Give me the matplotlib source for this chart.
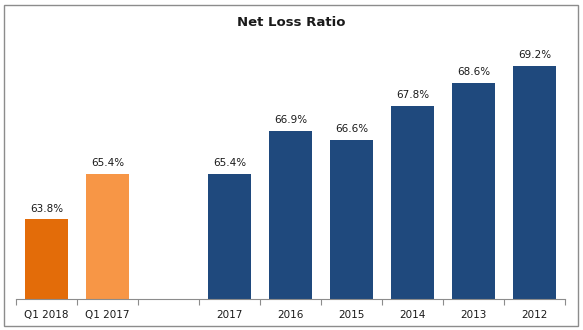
import matplotlib.pyplot as plt
from matplotlib.patches import Rectangle
import numpy as np

categories = ["Q1 2018", "Q1 2017", "", "2017", "2016", "2015", "2014", "2013", "2012"]
values = [63.8, 65.4, None, 65.4, 66.9, 66.6, 67.8, 68.6, 69.2]
colors = ["#E36C09", "#F79646", "#FFFFFF", "#1F497D", "#1F497D", "#1F497D",
          "#1F497D", "#1F497D", "#1F497D"]

W, H = 583, 330
fig = plt.figure(figsize=(W / 100, H / 100), dpi=100)
fig.patches.append(Rectangle((4 / W, 4 / H), 574 / W, 321 / H, transform=fig.transFigure,
                             fill=False, edgecolor="#8C8C8C", linewidth=1.0))

ax = fig.add_axes([16 / W, 31 / H, 549 / W, 256 / H])
base = 61.0
x = np.arange(len(categories))
for i in range(len(categories)):
    if values[i] is None:
        continue
    ax.bar(x[i], values[i] - base, bottom=base, width=0.72, color=colors[i])
    ax.text(x[i], values[i] + 0.2, "%.1f%%" % values[i], ha="center", va="bottom",
            fontsize=7.5, color="#1a1a1a")

ax.set_xlim(-0.5, len(categories) - 0.5)
ax.set_ylim(base, 70)
ax.set_yticks([])
ax.set_xticks(x)
ax.set_xticklabels(categories, fontsize=7.5, color="#1a1a1a")
ax.tick_params(axis="x", which="major", length=0, pad=8)
ax.set_xticks(np.arange(-0.5, len(categories)), minor=True)
ax.tick_params(axis="x", which="minor", length=4, color="#8C8C8C", width=0.8)
for s in ["top", "right", "left"]:
    ax.spines[s].set_visible(False)
ax.spines["bottom"].set_color("#8C8C8C")
ax.spines["bottom"].set_linewidth(0.8)

fig.text(0.5, 1 - 22 / H, "Net Loss Ratio", ha="center", va="center",
         fontsize=9.5, fontweight="bold", color="#1a1a1a")

fig.savefig("out.png", dpi=100)
